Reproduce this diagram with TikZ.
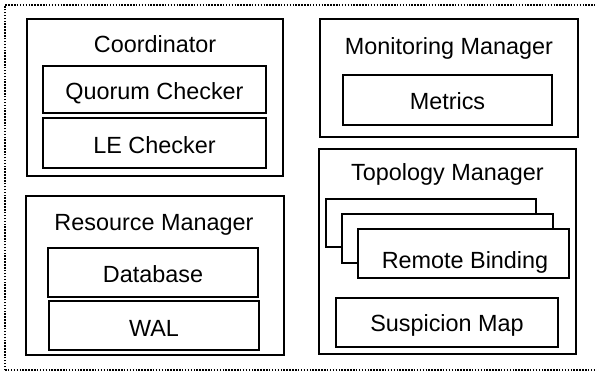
\documentclass[tikz,border=0pt]{standalone}
\usepackage{fontspec}
\setmainfont{Liberation Sans}
\begin{document}
\begin{tikzpicture}[x=1pt,y=-1pt,
  box/.style={draw=black,line width=2pt,fill=white,inner sep=0pt},
  lbl/.style={anchor=base,inner sep=0pt,font=\fontsize{23.4}{28}\selectfont},
  frame/.style={line width=1.6pt,dash pattern=on 1.5pt off 1.4pt}]
\useasboundingbox (0,0) rectangle (595,376);
% outer dotted frame, open on the right
\draw[frame] (5,370) -- (5,5) -- (600,5);
\draw[frame] (5,370) -- (600,370);

% Coordinator
\node[box,minimum width=256,minimum height=157] (coord) at (155,97.5) {};
\node[lbl] (coordT) at (155,52) {Coordinator};
\node[box,minimum width=223,minimum height=47] (quorum) at (154.5,89.5) {};
\node[lbl] (quorumT) at (154.5,99) {Quorum Checker};
\node[box,minimum width=223,minimum height=50] (le) at (154.5,143) {};
\node[lbl] (leT) at (154.5,153) {LE Checker};

% Resource Manager
\node[box,minimum width=258,minimum height=159] (res) at (155,275.5) {};
\node[lbl] (resT) at (154,230) {Resource Manager};
\node[box,minimum width=210,minimum height=49] (db) at (153,272.5) {};
\node[lbl] (dbT) at (153,282) {Database};
\node[box,minimum width=210,minimum height=49] (wal) at (154,325.5) {};
\node[lbl] (walT) at (154,336) {WAL};

% Monitoring Manager
\node[box,minimum width=258,minimum height=118] (mon) at (449,78) {};
\node[lbl] (monT) at (449,54) {Monitoring Manager};
\node[box,minimum width=209,minimum height=50] (met) at (447.5,100) {};
\node[lbl] (metT) at (447.5,109) {Metrics};

% Topology Manager with a stack of remote bindings
\node[box,minimum width=257,minimum height=205] (topo) at (447.5,251.5) {};
\node[lbl] (topoT) at (447.5,180) {Topology Manager};
\node[box,minimum width=210,minimum height=48] (rb1) at (431,223) {};
\node[box,minimum width=211,minimum height=49] (rb2) at (447.5,238.5) {};
\node[box,minimum width=211,minimum height=49] (rb3) at (463.5,253.5) {};
\node[lbl] (rbT) at (465,268) {Remote Binding};
\node[box,minimum width=222,minimum height=49] (susp) at (447,322.5) {};
\node[lbl] (suspT) at (447,331) {Suspicion Map};
\end{tikzpicture}
\end{document}
